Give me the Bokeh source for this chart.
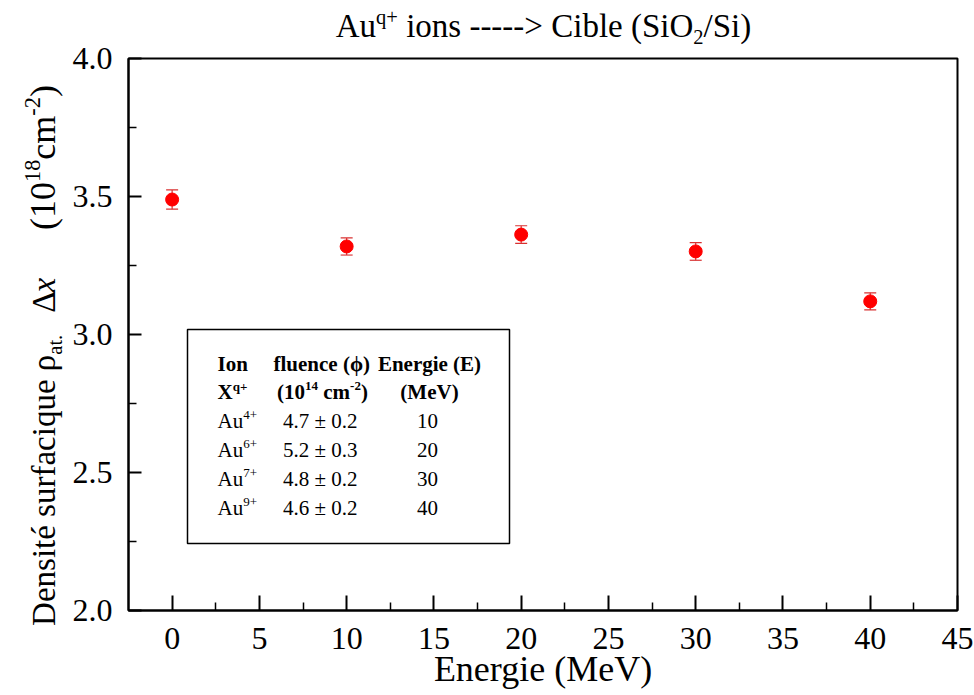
import math
from bokeh.plotting import figure
from bokeh.layouts import column, row
from bokeh.models import (Label, FixedTicker, Whisker, ColumnDataSource, Range1d,
                          BoxAnnotation, TeeHead, PrintfTickFormatter)
from bokeh.embed import file_html
from bokeh.resources import INLINE

# ---------------- data ----------------
energy = [0, 10, 20, 30, 40]
density = [3.489, 3.319, 3.362, 3.301, 3.120]
density_err = [0.035, 0.031, 0.032, 0.032, 0.031]

x_ticks = [0, 5, 10, 15, 20, 25, 30, 35, 40, 45]
x_minor = [2.5, 7.5, 12.5, 17.5, 22.5, 27.5, 32.5, 37.5, 42.5]
y_ticks = [2.0, 2.5, 3.0, 3.5, 4.0]
y_minor = [2.25, 2.75, 3.25, 3.75]

table_charge = ["4+", "6+", "7+", "9+"]
table_fluence = ["4.7 \u00b1 0.2", "5.2 \u00b1 0.3", "4.8 \u00b1 0.2", "4.6 \u00b1 0.2"]
table_energy = ["10", "20", "30", "40"]

FONT = "Liberation Serif"
X0, X1 = -2.5, 45.0
Y0, Y1 = 2.0, 4.0

# ---------------- layout geometry (page pixels) ----------------
PW, PH = 974, 695
TH = 46            # title strip height
YW = 68            # y-label strip width (full height)
MW, MH = PW - YW, PH - TH
ML, MR, MT, MB = 60, 17, 12, 85
FL, FT = YW + ML, TH + MT
FR, FB = PW - MR, PH - MB
MID = 0.3375       # em offset baseline -> middle of em box


def aux_fig(w, h, xr, yr, **kw):
    f = figure(width=w, height=h, x_range=Range1d(*xr), y_range=Range1d(*yr),
               output_backend="svg", toolbar_location=None,
               x_axis_location=None, y_axis_location=None, **kw)
    f.title.visible = False
    f.outline_line_color = None
    f.grid.visible = False
    f.background_fill_color = "white"
    f.border_fill_color = "white"
    return f


# title strip: frame spans same columns as the main frame; data x == page x
title_fig = aux_fig(MW, TH, (FL, FR), (0, TH), min_border_left=ML, min_border_right=MR,
                    min_border_top=0, min_border_bottom=0)
# y-label strip: whole page height; data == page px (y up)
ylab_fig = aux_fig(YW, PH, (0, YW), (0, PH), min_border=0)

p = figure(width=MW, height=MH, x_range=Range1d(X0, X1), y_range=Range1d(Y0, Y1),
           output_backend="svg", toolbar_location=None,
           min_border_left=ML, min_border_right=MR, min_border_top=MT, min_border_bottom=MB)
p.title.visible = False
p.grid.visible = False
p.outline_line_color = "black"
p.outline_line_width = 2
p.background_fill_color = "white"
p.border_fill_color = "white"

for ax in (p.xaxis[0], p.yaxis[0]):
    ax.axis_line_width = 2
    ax.axis_line_color = "black"
    ax.major_tick_line_width = 2
    ax.minor_tick_line_width = 1.5
    ax.major_tick_line_color = "black"
    ax.minor_tick_line_color = "black"
    ax.major_tick_out = 0
    ax.minor_tick_out = 0
    ax.major_label_text_font = FONT
    ax.major_label_text_font_size = "32px"
    ax.major_label_text_color = "black"

p.xaxis.ticker = FixedTicker(ticks=x_ticks, minor_ticks=x_minor)
p.yaxis.ticker = FixedTicker(ticks=y_ticks, minor_ticks=y_minor)
p.yaxis.formatter = PrintfTickFormatter(format="%.1f")
p.xaxis.major_tick_in = 15
p.xaxis.minor_tick_in = 8
p.yaxis.major_tick_in = 13
p.yaxis.minor_tick_in = 8
p.xaxis.major_label_standoff = 17
p.yaxis.major_label_standoff = 16

p.xaxis.axis_label = "Energie (MeV)"
p.xaxis.axis_label_text_font = FONT
p.xaxis.axis_label_text_font_size = "36px"
p.xaxis.axis_label_text_font_style = "normal"
p.xaxis.axis_label_text_color = "black"
p.xaxis.axis_label_standoff = -3

# ---------------- data marks ----------------
src = ColumnDataSource(dict(
    x=energy, y=density,
    lower=[d - e for d, e in zip(density, density_err)],
    upper=[d + e for d, e in zip(density, density_err)],
))
ERR_C = "#d83030"
wh = Whisker(source=src, base="x", lower="lower", upper="upper", dimension="height",
             line_color=ERR_C, line_width=1.2, level="underlay",
             upper_head=TeeHead(size=12, line_color=ERR_C, line_width=1.2),
             lower_head=TeeHead(size=12, line_color=ERR_C, line_width=1.2))
p.add_layout(wh)
p.scatter("x", "y", source=src, size=13, fill_color="#ff0000", line_color="#ff0000")


# ---------------- coordinate converters (page px -> figure data) ----------------
def conv_main(X, Y):
    return (X0 + (X - FL) / (FR - FL) * (X1 - X0),
            Y0 + (FB - Y) / (FB - FT) * (Y1 - Y0))


def conv_title(X, Y):
    return (X, TH - Y)


def conv_ylab(X, Y):
    return (X, PH - Y)


W_REG = {' ': 250, '(': 333, ')': 333, '+': 564, '-': 333, '.': 250, '/': 278, '>': 564,
         'A': 722, 'C': 667, 'D': 722, 'E': 611, 'M': 889, 'O': 722, 'S': 556, 'V': 722, 'X': 722,
         'a': 444, 'b': 500, 'c': 444, 'e': 444, 'f': 333, 'g': 500, 'i': 278, 'l': 278, 'm': 778,
         'n': 500, 'o': 500, 'q': 500, 'r': 333, 's': 389, 't': 278, 'u': 500, 'x': 500,
         '\u00e9': 444, '\u03c1': 500, '\u0394': 612, '\u03d5': 600, '\u00b1': 564}
W_BOLD = {' ': 250, '(': 333, ')': 333, '+': 570, '-': 333, '.': 250, 'A': 722, 'E': 667,
          'I': 389, 'M': 944, 'V': 722, 'X': 722, 'c': 444, 'e': 444, 'f': 333, 'g': 500,
          'i': 278, 'l': 278, 'm': 833, 'n': 556, 'o': 500, 'q': 556, 'r': 444, 'u': 556,
          '\u03d5': 600}
W_ITAL = {'x': 444}


def run_width(s, size, style):
    tbl = W_BOLD if "bold" in style else (W_ITAL if "italic" in style else W_REG)
    return sum(tbl.get(c, 500) for c in s) / 1000.0 * size


def rich(fig, conv, runs, X, Y, size, align="left", vertical=False, bold=False):
    """runs: (text, kind[, size]) with kind n / sup / sub / i / gap; X, Y: page px of baseline."""
    items = []
    for r in runs:
        text, kind = r[0], r[1]
        base = r[2] if len(r) > 2 else size
        if kind == "gap":
            items.append(("", 0, "normal", 0, float(text)))
            continue
        fs = base * 0.62 if kind in ("sup", "sub") else base
        style = "bold" if bold else "normal"
        if kind == "i":
            style = "italic"
        shift = 0.0
        if kind == "sup":
            shift = 0.42 * base
        elif kind == "sub":
            shift = -0.2 * base
        items.append((text, fs, style, shift, run_width(text, fs, style)))
    total = sum(it[4] for it in items)
    cur = -total / 2 if align == "center" else 0.0
    for text, fs, style, shift, w in items:
        if not text:
            cur += w
            continue
        body = text.lstrip(" ")
        lead = run_width(text[:len(text) - len(body)], fs, style)
        body = body.rstrip(" ")
        pos = cur + lead
        up = shift + MID * fs          # anchor sits at middle of em box
        if vertical:
            lx, ly, ang = X - up, Y - pos, math.pi / 2
        else:
            lx, ly, ang = X + pos, Y - up, 0
        x, y = conv(lx, ly)
        fig.add_layout(Label(x=x, y=y, text=body, text_font=FONT,
                             text_font_size=f"{fs:.1f}px", text_font_style=style,
                             text_color="black", text_align="left",
                             text_baseline="middle", angle=ang))
        cur += w


# title
rich(title_fig, conv_title,
     [("Au", "n"), ("q+", "sup"), (" ions -----> Cible (SiO", "n"), ("2", "sub"), ("/Si)", "n")],
     543, 37, 33, align="center")
# y label
UF = 36
rich(ylab_fig, conv_ylab,
     [("Densit\u00e9 surfacique", "n"), (" \u03c1", "n"), ("at.", "sub"), ("22", "gap"),
      ("\u0394", "n"), ("x", "i"), ("48", "gap"),
      ("(10", "n", UF), ("18", "sup", UF), ("cm", "n", UF), ("-2", "sup", UF), (")", "n", UF)],
     55, 355, 33, align="center", vertical=True)

# ---------------- table ----------------
bl, bt = conv_main(187, 329)
br, bb = conv_main(509, 543)
p.add_layout(BoxAnnotation(left=bl, right=br, top=bt, bottom=bb, fill_alpha=0,
                           line_color="black", line_alpha=1, line_width=1.5))
TS = 21
rich(p, conv_main, [("Ion", "n")], 217, 371, TS, bold=True)
rich(p, conv_main, [("fluence (\u03d5)", "n")], 321, 371, TS, align="center", bold=True)
rich(p, conv_main, [("Energie (E)", "n")], 429, 371, TS, align="center", bold=True)
rich(p, conv_main, [("X", "n"), ("q+", "sup")], 217, 399, TS, bold=True)
rich(p, conv_main, [("(10", "n"), ("14", "sup"), (" cm", "n"), ("-2", "sup"), (")", "n")],
     322, 399, TS, align="center", bold=True)
rich(p, conv_main, [("(MeV)", "n")], 429, 399, TS, align="center", bold=True)
for i, (q, fl, en) in enumerate(zip(table_charge, table_fluence, table_energy)):
    yb = 428 + i * 28.8
    rich(p, conv_main, [("Au", "n"), (q, "sup")], 217, yb, TS)
    rich(p, conv_main, [(fl, "n")], 320, yb, TS, align="center")
    rich(p, conv_main, [(en, "n")], 427, yb, TS, align="center")

layout = row(ylab_fig, column(title_fig, p))
open("out.html", "w").write(file_html(layout, INLINE))
